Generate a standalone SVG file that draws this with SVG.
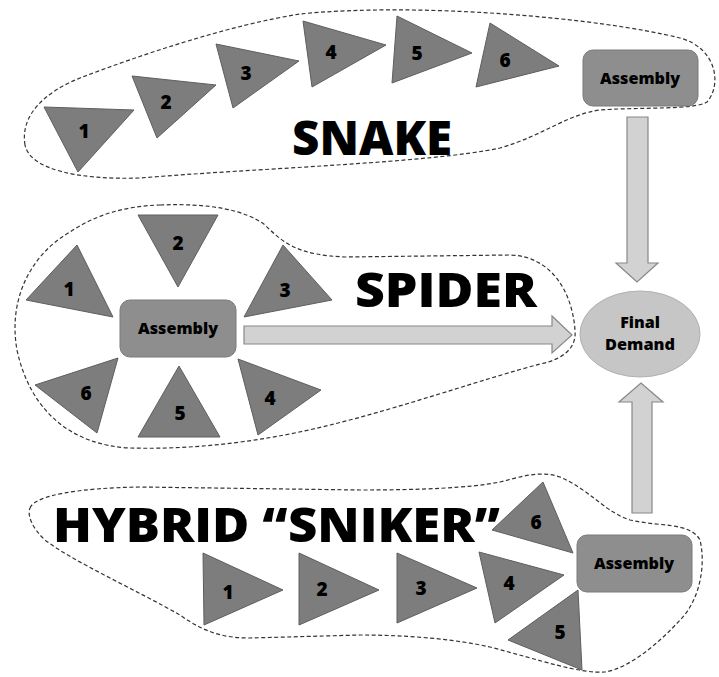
<svg xmlns="http://www.w3.org/2000/svg" width="719" height="677" viewBox="0 0 719 677">
<defs>
<style>
.bg{fill:#ffffff}
.outline{fill:none;stroke:#333333;stroke-width:1.2;stroke-dasharray:4 2.5}
.tri{fill:#7d7d7d;stroke:#5e5e5e;stroke-width:1}
.box{fill:#8e8e8e;stroke:#7a7a7a;stroke-width:1}
.arrow{fill:#d2d2d2;stroke:#888888;stroke-width:1.2}
.fd{fill:#c6c6c6;stroke:#b0b0b0;stroke-width:1}
.num{font-family:"Open Sans","Liberation Sans",Arial,sans-serif;font-weight:800;font-size:19px;fill:#000;text-anchor:middle}
.lbl{font-family:"Open Sans","Liberation Sans",Arial,sans-serif;font-weight:800;font-size:16px;fill:#000;text-anchor:middle}
.title{font-family:"Open Sans","Liberation Sans",Arial,sans-serif;font-weight:800;font-size:48px;fill:#000}
</style>
</defs>
<rect class="bg" x="0" y="0" width="719" height="677"/>

<g id="outlines">
<path id="snake-outline" class="outline" d="M 25,145 C 20,115 45,92 80,78 C 140,55 230,25 300,14 C 420,2 600,18 680,38 C 717,48 722,85 707,102 C 695,110 640,107 600,110 C 565,115 545,135 500,148 C 430,163 260,168 140,178 C 80,180 30,170 25,145 Z"/>
<path id="spider-outline" class="outline" d="M 160,205 C 210,203 245,210 265,225 C 285,245 300,255 345,257 L 510,255 C 550,256 572,290 575,330 C 577,350 560,360 540,364 C 480,380 400,408 330,425 C 270,440 200,450 130,448 C 70,445 30,410 17,350 C 8,300 30,255 70,232 C 95,215 125,206 160,205 Z"/>
<path id="hybrid-outline" class="outline" d="M 30,508 C 35,495 80,488 140,487 L 360,490 C 420,490 470,488 500,482 C 520,477 540,470 560,477 C 590,490 605,512 630,520 C 660,527 690,522 700,540 C 706,565 700,600 680,620 C 660,642 630,668 605,672 C 580,674 540,660 490,647 C 450,638 400,635 360,635 L 250,638 C 225,638 205,633 180,615 C 140,592 70,560 45,540 C 32,528 27,515 30,508 Z"/>
</g>

<g id="connectors">
<path id="arrow-snake" class="arrow" d="M 627,117 L 648,117 L 648,263 L 658,263 L 637,282 L 616,263 L 627,263 Z"/>
<path id="arrow-spider" class="arrow" d="M 244,326 L 552,326 L 552,316 L 572,335 L 552,353 L 552,344 L 244,344 Z"/>
<path id="arrow-hybrid" class="arrow" d="M 632,513 L 632,402 L 619,402 L 641,383 L 663,402 L 652,402 L 652,513 Z"/>
</g>

<g id="titles">
<text class="title" x="292" y="155" textLength="160" lengthAdjust="spacingAndGlyphs">SNAKE</text>
<text class="title" x="355" y="307" textLength="182" lengthAdjust="spacingAndGlyphs">SPIDER</text>
<text class="title" x="53" y="542" textLength="447" lengthAdjust="spacingAndGlyphs">HYBRID “SNIKER”</text>
</g>

<g id="final-demand">
<ellipse class="fd" cx="640" cy="334" rx="60" ry="43"/>
<text class="lbl" x="640" y="328" font-size="15">Final</text>
<text class="lbl" x="640" y="350" font-size="15" textLength="70" lengthAdjust="spacingAndGlyphs">Demand</text>
</g>

<g id="snake">
<g id="snake-1"><polygon class="tri" points="44,107 134,110 78,172"/><text class="num" x="84" y="138">1</text></g>
<g id="snake-2"><polygon class="tri" points="132,76 216,85 157,138"/><text class="num" x="166" y="109">2</text></g>
<g id="snake-3"><polygon class="tri" points="216,44 299,61 233,108"/><text class="num" x="246" y="80">3</text></g>
<g id="snake-4"><polygon class="tri" points="303,21 386,45 312,87"/><text class="num" x="331" y="59">4</text></g>
<g id="snake-5"><polygon class="tri" points="397,16 472,53 392,83"/><text class="num" x="417" y="60">5</text></g>
<g id="snake-6"><polygon class="tri" points="490,23 559,66 476,87"/><text class="num" x="505" y="67">6</text></g>
<g id="snake-assembly"><rect class="box" x="583" y="50" width="115" height="56" rx="10"/><text class="lbl" x="640" y="84" textLength="80" lengthAdjust="spacingAndGlyphs">Assembly</text></g>
</g>

<g id="spider">
<g id="spider-1"><polygon class="tri" points="77,245 26,300 113,317"/><text class="num" x="69" y="296">1</text></g>
<g id="spider-2"><polygon class="tri" points="138,215 218,215 178,287"/><text class="num" x="178" y="250">2</text></g>
<g id="spider-3"><polygon class="tri" points="283,245 332,300 244,317"/><text class="num" x="285" y="297">3</text></g>
<g id="spider-4"><polygon class="tri" points="238,359 321,390 258,435"/><text class="num" x="270" y="405">4</text></g>
<g id="spider-5"><polygon class="tri" points="179,366 138,437 220,437"/><text class="num" x="180" y="420">5</text></g>
<g id="spider-6"><polygon class="tri" points="118,358 35,385 97,433"/><text class="num" x="86" y="400">6</text></g>
<g id="spider-assembly"><rect class="box" x="120" y="300" width="116" height="57" rx="10"/><text class="lbl" x="178" y="334" textLength="80" lengthAdjust="spacingAndGlyphs">Assembly</text></g>
</g>

<g id="hybrid">
<g id="hybrid-1"><polygon class="tri" points="203,553 283,590 204,625"/><text class="num" x="228" y="599">1</text></g>
<g id="hybrid-2"><polygon class="tri" points="299,553 379,590 299,625"/><text class="num" x="322" y="596">2</text></g>
<g id="hybrid-3"><polygon class="tri" points="397,553 477,588 397,623"/><text class="num" x="421" y="595">3</text></g>
<g id="hybrid-4"><polygon class="tri" points="479,552 564,575 495,623"/><text class="num" x="509" y="590">4</text></g>
<g id="hybrid-5"><polygon class="tri" points="578,590 582,670 508,640"/><text class="num" x="560" y="639">5</text></g>
<g id="hybrid-6"><polygon class="tri" points="543,482 573,553 492,530"/><text class="num" x="536" y="529">6</text></g>
<g id="hybrid-assembly"><rect class="box" x="577" y="535" width="115" height="57" rx="10"/><text class="lbl" x="634" y="569" textLength="80" lengthAdjust="spacingAndGlyphs">Assembly</text></g>
</g>
</svg>
